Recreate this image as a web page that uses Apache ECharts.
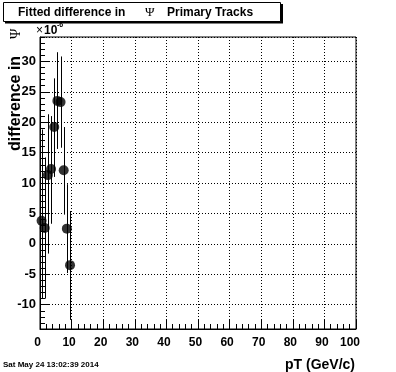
<!DOCTYPE html>
<html><head><meta charset="utf-8">
<script src="https://cdn.jsdelivr.net/npm/echarts@6/dist/echarts.min.js"></script>
<style>html,body{margin:0;padding:0;background:#fff}#c{width:396px;height:372px}</style>
</head><body><div id="c"></div>
<script>
// Data (units of 1e-6 on y)
const ptValues   = [0.5, 1.5, 2.5, 3.5, 4.5, 5.5, 6.5, 7.5, 8.5, 9.5];
const diffValues = [3.8, 2.6, 11.3, 12.3, 19.2, 23.5, 23.3, 12.1, 2.5, -3.5];
const errLowEnd  = [-9.0, -9.0, -1.6, 3.3, 11.0, 15.6, 15.8, 4.8, -4.8, -12.5];
const errHighEnd = [18.8, 14.2, 21.3, 21.0, 27.2, 31.5, 30.8, 19.2, 9.8, 5.4];
const xTickLabels = [0, 10, 20, 30, 40, 50, 60, 70, 80, 90, 100];
const yTickLabels = [-10, -5, 0, 5, 10, 15, 20, 25, 30];

const FF = '"Liberation Sans", Arial, Helvetica, sans-serif';
const SERIF = '"Liberation Serif", "DejaVu Serif", serif';
const chart = echarts.init(document.getElementById('c'), null, {renderer: 'canvas'});

const option = {
  animation: false,
  backgroundColor: '#fff',
  grid: {left: 40, right: 40, top: 37, bottom: 43, show: true, borderColor: '#000', borderWidth: 1, backgroundColor: 'transparent'},
  xAxis: {
    type: 'value', min: 0, max: 100, interval: 10,
    axisLine: {show: true, onZero: false, lineStyle: {color: '#000', width: 1}},
    axisTick: {show: true, inside: true, length: 9, lineStyle: {color: '#000'}},
    minorTick: {show: true, splitNumber: 5, length: 5, lineStyle: {color: '#000'}},
    axisLabel: {margin: 8, color: '#000', fontWeight: 'bold', fontSize: 12, fontFamily: FF,
      formatter: v => xTickLabels.includes(v) ? (v === 100 ? '{e|100}' : '{n|' + v + '}') : '',
      rich: {
        n: {fontWeight: 'bold', fontSize: 12, fontFamily: FF, color: '#000', padding: [0, 5, 0, 0]},
        e: {fontWeight: 'bold', fontSize: 12, fontFamily: FF, color: '#000', padding: [0, 12, 0, 0]}
      }},
    splitLine: {show: true, lineStyle: {color: '#000', type: [1, 2], width: 1}}
  },
  yAxis: [{
    type: 'value', min: -14, max: 34, splitNumber: 10,
    axisLine: {show: true, onZero: false, lineStyle: {color: '#000', width: 1}},
    axisTick: {show: true, inside: true, length: 9, lineStyle: {color: '#000'}},
    axisLabel: {margin: 4, color: '#000', fontWeight: 'bold', fontSize: 13, fontFamily: FF,
      showMinLabel: false, showMaxLabel: false,
      formatter: v => yTickLabels.includes(v) ? String(v) : ''},
    splitLine: {show: true, lineStyle: {color: '#000', type: [1, 2], width: 1}}
  }, {
    type: 'value', min: -14, max: 34, interval: 1, position: 'left',
    axisLine: {show: false},
    axisTick: {show: true, inside: true, length: 5, lineStyle: {color: '#000'}},
    axisLabel: {show: false},
    splitLine: {show: false}
  }],
  series: [{
    type: 'custom', xAxisIndex: 0, yAxisIndex: 0, silent: true,
    data: ptValues.map((x, i) => [x, errLowEnd[i], errHighEnd[i]]),
    renderItem: (params, api) => {
      const p1 = api.coord([api.value(0), api.value(1)]);
      const p2 = api.coord([api.value(0), api.value(2)]);
      const x = Math.round(p1[0]) + 0.5;
      return {type: 'line', shape: {x1: x, y1: p1[1], x2: x, y2: p2[1]},
        style: {stroke: '#000', lineWidth: 1}};
    },
    z: 2
  }, {
    type: 'scatter', xAxisIndex: 0, yAxisIndex: 0, symbol: 'circle', symbolSize: 10,
    itemStyle: {color: '#000'},
    data: ptValues.map((x, i) => [x, diffValues[i]]),
    z: 3
  }],
  graphic: [
    {type: 'rect', shape: {x: 5, y: 4, width: 278, height: 19.5}, style: {fill: '#000'}, z: 10},
    {type: 'rect', shape: {x: 3.5, y: 2.5, width: 277, height: 19}, style: {fill: '#fff', stroke: '#000', lineWidth: 1}, z: 11},
    {type: 'text', x: 18, y: 12.5, z: 12, style: {text: 'Fitted difference in', font: 'bold 12px ' + FF, fill: '#000', verticalAlign: 'middle'}},
    {type: 'text', x: 145, y: 12.5, z: 12, style: {text: 'Ψ', font: '13px ' + SERIF, fill: '#000', verticalAlign: 'middle'}},
    {type: 'text', x: 167, y: 12.5, z: 12, style: {text: 'Primary Tracks', font: 'bold 12px ' + FF, fill: '#000', verticalAlign: 'middle'}},
    {type: 'text', x: 36, y: 31, z: 12, style: {text: '×', font: '12px ' + FF, fill: '#000', verticalAlign: 'middle'}},
    {type: 'text', x: 44, y: 31, z: 12, style: {text: '10', font: 'bold 12px ' + FF, fill: '#000', verticalAlign: 'middle'}},
    {type: 'text', x: 57, y: 25, z: 12, style: {text: '-6', font: 'bold 7px ' + FF, fill: '#000', verticalAlign: 'middle'}},
    {type: 'text', x: 16, y: 151, rotation: Math.PI / 2, z: 12, style: {text: 'difference in', font: 'bold 16px ' + FF, fill: '#000', align: 'left', verticalAlign: 'middle'}},
    {type: 'text', x: 16, y: 39, rotation: Math.PI / 2, z: 12, style: {text: 'Ψ', font: '14px ' + SERIF, fill: '#000', align: 'left', verticalAlign: 'middle'}},
    {type: 'text', x: 355, y: 365, z: 12, style: {text: 'pT (GeV/c)', font: 'bold 14px ' + FF, fill: '#000', align: 'right', verticalAlign: 'middle'}},
    {type: 'text', x: 3, y: 365, z: 12, style: {text: 'Sat May 24 13:02:39 2014', font: 'bold 8px ' + FF, fill: '#000', align: 'left', verticalAlign: 'middle'}}
  ]
};
chart.setOption(option);
</script>
</body></html>
